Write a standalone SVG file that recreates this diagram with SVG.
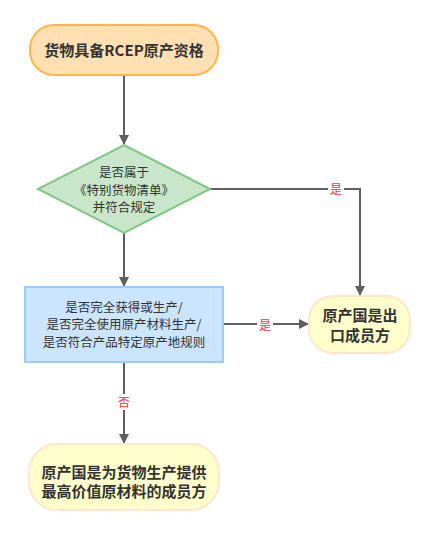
<svg xmlns="http://www.w3.org/2000/svg" width="434" height="535" viewBox="0 0 434 535">
<defs>
<style>
.t{font-family:"Noto Sans CJK SC","Liberation Sans",sans-serif;fill:#333;text-anchor:middle}
.b{font-weight:bold;font-size:15px}
.m{font-size:12.5px}
.n{font-size:15px;font-weight:bold}
.e{stroke:#5f5f5f;stroke-width:2;fill:none}
.l{font-family:"Noto Sans CJK SC",sans-serif;font-size:12px;fill:#ff3333;text-anchor:middle}
</style>
<marker id="ar" markerWidth="10" markerHeight="10" refX="9" refY="5" orient="auto" markerUnits="userSpaceOnUse">
<path d="M0,0 L10,5 L0,10 Z" fill="#5f5f5f"/>
</marker>
</defs>
<rect width="434" height="535" fill="#fff"/>
<g id="edges">
<line class="e" x1="124" y1="75" x2="124" y2="144" marker-end="url(#ar)"/>
<polyline class="e" points="210,189 360,189 360,295" marker-end="url(#ar)"/>
<line class="e" x1="124" y1="233" x2="124" y2="286" marker-end="url(#ar)"/>
<line class="e" x1="223" y1="324" x2="308" y2="324" marker-end="url(#ar)"/>
<line class="e" x1="124" y1="362" x2="124" y2="443" marker-end="url(#ar)"/>
<rect x="328" y="181" width="16" height="16" fill="#fff"/>
<text class="l" x="336" y="194">是</text>
<rect x="257" y="317" width="16" height="16" fill="#fff"/>
<text class="l" x="265" y="330">是</text>
<rect x="116" y="394" width="16" height="16" fill="#fff"/>
<text class="l" x="124" y="407">否</text>
</g>
<g id="start">
<rect x="30" y="25" width="188" height="50" rx="24" fill="#ffe0b2" stroke="#ffb74d" stroke-width="2"/>
<text class="t b" x="124" y="56">货物具备RCEP原产资格</text>
</g>
<g id="decision">
<polygon points="124,145 210,189 124,233 38,189" fill="#c8e6c9" stroke="#82c785" stroke-width="2"/>
<text class="t m" x="124" y="177">是否属于</text>
<text class="t m" x="124" y="194.5">《特别货物清单》</text>
<text class="t m" x="124" y="212">并符合规定</text>
</g>
<g id="check">
<rect x="25" y="287" width="198" height="75" fill="#cce5ff" stroke="#99ccff" stroke-width="2"/>
<text class="t m" x="124" y="311.5">是否完全获得或生产/</text>
<text class="t m" x="124" y="329">是否完全使用原产材料生产/</text>
<text class="t m" x="124" y="346.5">是否符合产品特定原产地规则</text>
</g>
<g id="export">
<rect x="309" y="296" width="101" height="57" rx="24" fill="#ffffcc" stroke="#ffe6cc" stroke-width="2"/>
<text class="t n" x="360" y="321">原产国是出</text>
<text class="t n" x="360" y="341">口成员方</text>
</g>
<g id="material">
<rect x="29" y="444" width="190" height="66" rx="28" fill="#ffffcc" stroke="#ffe6cc" stroke-width="2"/>
<text class="t n" x="124" y="478">原产国是为货物生产提供</text>
<text class="t n" x="124" y="497">最高价值原材料的成员方</text>
</g>
</svg>
